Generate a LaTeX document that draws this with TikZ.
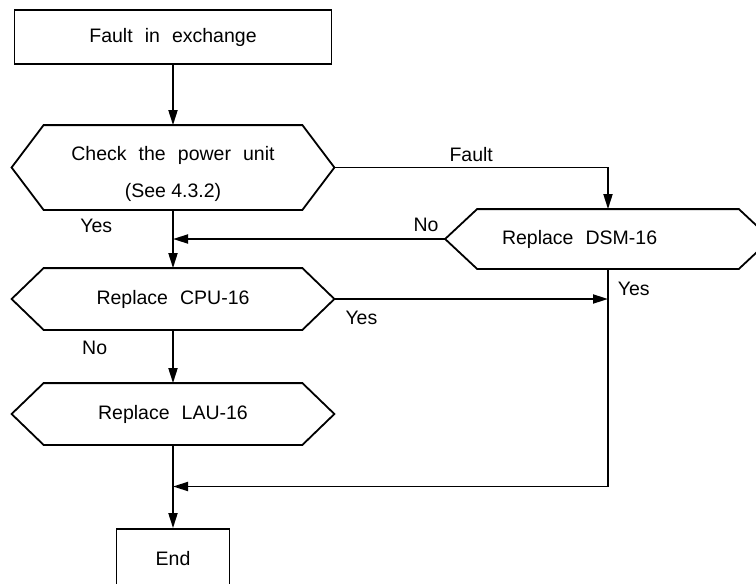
\documentclass[tikz,border=0pt]{standalone}
\usepackage{fontspec}
\setmainfont{Liberation Sans}
\usetikzlibrary{positioning,calc,arrows.meta}
\newcommand{\widegap}{\spaceskip0.62em\relax}

\begin{document}
\begin{tikzpicture}[x=1pt, y=-1pt, line width=1.8pt,
    >={Triangle[length=15pt, width=9pt]},
    every node/.style={font=\fontsize{19.5}{37}\selectfont\widegap},
    box/.style={draw, rectangle, inner sep=0pt},
    hexbox/.style={rectangle, inner sep=0pt, minimum width=257pt, minimum height=60pt, align=center},
    lbl/.style={inner sep=0pt}]
    \useasboundingbox (0,0) rectangle (756,584);

    % Boxes
    \node[box, minimum width=317pt, minimum height=54pt] (fault) at (173,37) {Fault in exchange};
    \node[hexbox, minimum height=83pt] (chk) at (173,167.5) {\rule{0pt}{28pt}Check the power unit\\{\spaceskip0pt (See 4.3.2)}};
    \node[hexbox, minimum width=260pt, minimum height=58pt, align=left, text width=212pt, inner xsep=24pt] (dsm) at (608,239) {\widegap Replace DSM-16};
    \node[hexbox] (cpu) at (173,299) {Replace CPU-16};
    \node[hexbox] (lau) at (173,414) {Replace LAU-16};
    \node[box, minimum width=113pt, minimum height=60pt] (finish) at (173,559) {End};

    % Hexagon outlines
    \foreach \n in {chk,dsm,cpu,lau}
        \draw (\n.north west) -- (\n.north east) -- ([xshift=32pt]\n.east) coordinate (\n-r)
            -- (\n.south east) -- (\n.south west) -- ([xshift=-32pt]\n.west) coordinate (\n-l) -- cycle;

    \coordinate (join) at ($(lau.south)!0.5!(finish.north)$);

    % Connectors
    \draw[->] (fault) -- (chk);
    \draw[->] (chk-r) -| node[pos=0.25, above=5pt, lbl] {Fault} (dsm);
    \draw[->] (chk) -- node[pos=0.27, left=60pt, lbl] {Yes} (cpu);
    \draw[->] (dsm-l) -- node[pos=0.07, above=6pt, lbl] {No} (dsm-l -| chk.south);
    \draw[->] (cpu-r) -- node[pos=0.03, below right=11pt and 2pt, lbl] {Yes} (cpu-r -| dsm.south);
    \draw[->] (dsm) |- node[pos=0.045, right=9pt, lbl] {Yes} (join);
    \draw[->] (cpu) -- node[pos=0.33, left=65pt, lbl] {No} (lau);
    \draw (lau) -- (join);
    \draw[->] (join) -- (finish);
\end{tikzpicture}
\end{document}
